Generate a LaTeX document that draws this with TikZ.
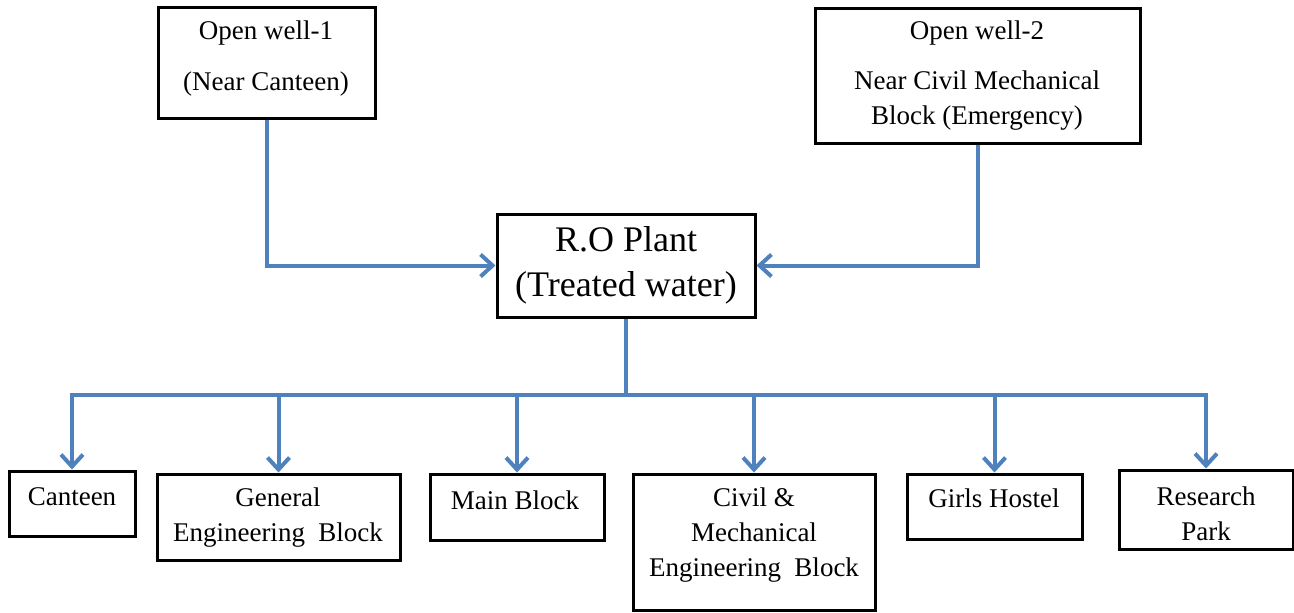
\documentclass[tikz,border=0pt]{standalone}
\usepackage{fontspec}
\setmainfont{Liberation Serif}
\usepackage{tikz}
\usetikzlibrary{arrows.meta,positioning}
\definecolor{pipe}{HTML}{4F81BD}
\tikzset{
    blk/.style={draw, line width=1.5pt, inner sep=0pt},
    txt/.style={align=center, inner sep=0pt, font=\fontsize{13.5}{17.5}\selectfont},
    bigtxt/.style={align=center, inner sep=0pt, font=\fontsize{18}{22.5}\selectfont},
    flow/.style={draw=pipe, line width=2pt, -{Straight Barb[length=6pt,width=11pt]}}
}

\begin{document}
\begin{tikzpicture}[x=0.5pt, y=-0.5pt]
        \useasboundingbox (0,0) rectangle (1294,612);
        % sources and plant
        \node[blk, minimum width=108.5pt, minimum height=55.5pt] (W1) at (266.5,62.5) {};
        \node[blk, minimum width=162.5pt, minimum height=67.5pt] (W2) at (977.5,75.5) {};
        \node[blk, minimum width=129pt, minimum height=51.5pt] (RO) at (626,265.5) {};
        \node[txt] (W1t) at (266,58.5) {Open well-1\\[8pt](Near Canteen)};
        \node[txt] (W2t) at (977,75.5) {Open well-2\\[7.5pt]Near Civil Mechanical\\Block (Emergency)};
        \node[bigtxt] (ROt) at (626,265.5) {R.O Plant\\(Treated water)};
        % consumers
        \node[blk, minimum width=63pt, minimum height=32.5pt] (C1) at (72,503.5) {};
        \node[blk, minimum width=121.5pt, minimum height=43pt] (C2) at (278.5,517) {};
        \node[blk, minimum width=87pt, minimum height=33pt] (C3) at (517,507) {};
        \node[blk, minimum width=121pt, minimum height=68pt] (C4) at (754,542) {};
        \node[blk, minimum width=87.5pt, minimum height=32.5pt] (C5) at (994.5,506.5) {};
        \node[blk, minimum width=87pt, minimum height=39.5pt] (C6) at (1206,509.5) {};
        \node[txt] (C1t) at (72,497) {Canteen};
        \node[txt] (C2t) at (278,517.5) {General\\Engineering\ \ Block};
        \node[txt] (C3t) at (515,500) {Main Block};
        \node[txt] (C4t) at (754,535.5) {Civil \&\\Mechanical\\Engineering\ \ Block};
        \node[txt] (C5t) at (994,498) {Girls Hostel};
        \node[txt] (C6t) at (1206,513.5) {Research\\Park};
        % pipes
        \coordinate (bus) at (626,395);
        \draw[flow] (W1.south) |- (RO.west);
        \draw[flow] (W2.south) |- (RO.east);
        \draw[flow] (RO.south) -- (bus) -| (C1.north);
        \draw[flow] (bus) -| (C6.north);
        \foreach \c in {C2,C3,C4,C5}
            \draw[flow] (\c.north |- bus) -- (\c.north);
    \end{tikzpicture}
\end{document}
